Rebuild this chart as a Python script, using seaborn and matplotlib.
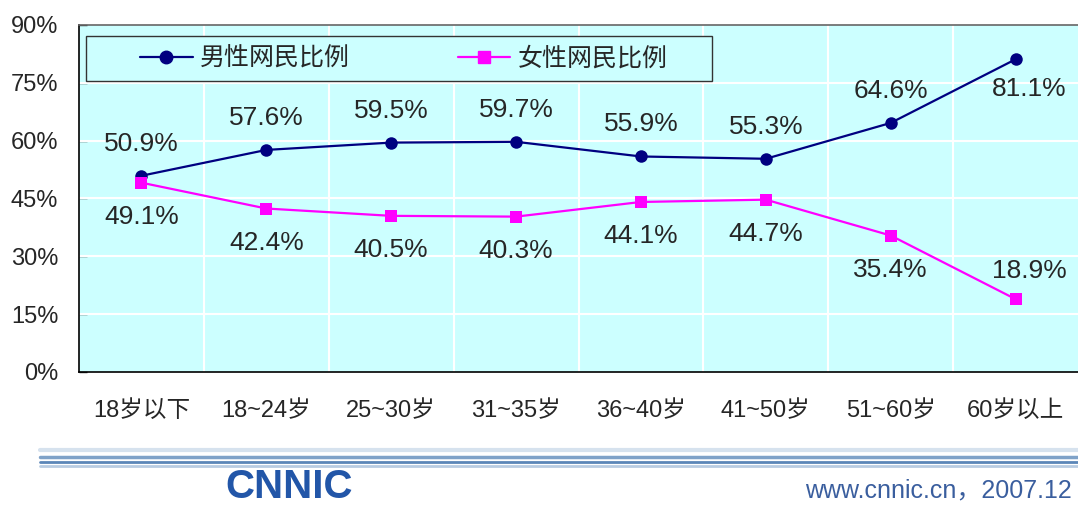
import matplotlib
matplotlib.use("Agg")
import matplotlib.pyplot as plt
import numpy as np
import pandas as pd
import seaborn as sns
from matplotlib.lines import Line2D
from matplotlib.patches import Rectangle

categories = ["18岁以下", "18~24岁", "25~30岁", "31~35岁", "36~40岁", "41~50岁", "51~60岁", "60岁以上"]
male = [50.9, 57.6, 59.5, 59.7, 55.9, 55.3, 64.6, 81.1]
female = [49.1, 42.4, 40.5, 40.3, 44.1, 44.7, 35.4, 18.9]
series_names = ["男性网民比例", "女性网民比例"]
y_ticks = [0, 15, 30, 45, 60, 75, 90]

sns.set_style("white")
plt.rcParams["font.family"] = ["Liberation Sans", "Noto Sans CJK SC", "DejaVu Sans"]

df = pd.DataFrame({
    "pos": list(range(len(categories))) * 2,
    "value": male + female,
    "series": [series_names[0]] * len(male) + [series_names[1]] * len(female),
})

W, H = 1078, 507
fig = plt.figure(figsize=(W / 100, H / 100), dpi=100)
ax = fig.add_axes([79 / W, 135 / H, 999 / W, 347 / H])
ax.set_facecolor("#CCFFFF")

palette = {series_names[0]: "#000080", series_names[1]: "#FF00FF"}
sns.lineplot(data=df, x="pos", y="value", hue="series", style="series",
             markers={series_names[0]: "o", series_names[1]: "s"}, dashes=False,
             palette=palette, markersize=9, markeredgewidth=0, linewidth=1.6,
             ax=ax, legend=False, zorder=3)

ax.set_xlim(-0.5, len(categories) - 0.5)
ax.set_ylim(0, 90)
ax.set_yticks(y_ticks)
ax.set_yticklabels([f"{t}%" for t in y_ticks], fontsize=17)
ax.set_xticks(range(len(categories)))
ax.set_xticklabels(categories, fontsize=17)
ax.tick_params(axis="x", length=0, pad=20)
ax.tick_params(axis="y", length=6, width=1, direction="in", pad=15, left=True)
ax.set_xlabel("")
ax.set_ylabel("")

for yv in y_ticks[1:-1]:
    ax.axhline(yv, color="white", lw=1.5, zorder=1)
for xv in np.arange(0.5, len(categories) - 0.5, 1):
    ax.axvline(xv, color="white", lw=1.5, zorder=1)

for name, sp in ax.spines.items():
    sp.set_visible(True)
    sp.set_color("black")
    sp.set_linewidth(1.2)
ax.spines["top"].set_color("#666666")
ax.spines["right"].set_visible(False)

# value labels
for i, v in enumerate(male):
    off = (14, -30) if i == len(male) - 1 else (0, 32)
    ax.annotate(f"{v}%", (i, v), xytext=off, textcoords="offset pixels",
                ha="center", va="center", fontsize=19, zorder=5)
for i, v in enumerate(female):
    off = (14, 28) if i == len(female) - 1 else (0, -34)
    ax.annotate(f"{v}%", (i, v), xytext=off, textcoords="offset pixels",
                ha="center", va="center", fontsize=19, zorder=5)

# legend: frame drawn as a box, entries placed inside it
ax.add_patch(Rectangle(((86 - 79) / 999, (372 - 81) / 347), (712 - 86) / 999, 45 / 347,
                       transform=ax.transAxes, facecolor="#CCFFFF", edgecolor="#333333",
                       lw=1.0, zorder=4))
handles = [Line2D([], [], color="#000080", marker="o", markersize=9, lw=1.6),
           Line2D([], [], color="#FF00FF", marker="s", markersize=9, lw=1.6)]
leg = ax.legend(handles, series_names, loc="center left", ncol=2,
                bbox_to_anchor=((140 - 79) / 999, (372 - 59) / 347), fontsize=18,
                frameon=False, borderpad=0, borderaxespad=0,
                handlelength=2.1, handletextpad=0.3, columnspacing=4.3)
leg.set_zorder(6)

# footer
for y, c, w in [(450, "#D6E2EE", 3), (457, "#7FA2C8", 2.5), (462, "#5B86B8", 2), (466, "#B8CCE2", 2)]:
    fig.add_artist(Line2D([40 / W, 1], [1 - y / H, 1 - y / H], color=c, lw=w))
fig.text(289 / W, 1 - 487 / H, "CNNIC", fontsize=29, fontweight="bold",
         color="#2256A8", ha="center", va="center")
fig.text(1072 / W, 1 - 490 / H, "www.cnnic.cn，2007.12", fontsize=18,
         color="#3A5E9E", ha="right", va="center")

fig.savefig("out.png", dpi=100)
